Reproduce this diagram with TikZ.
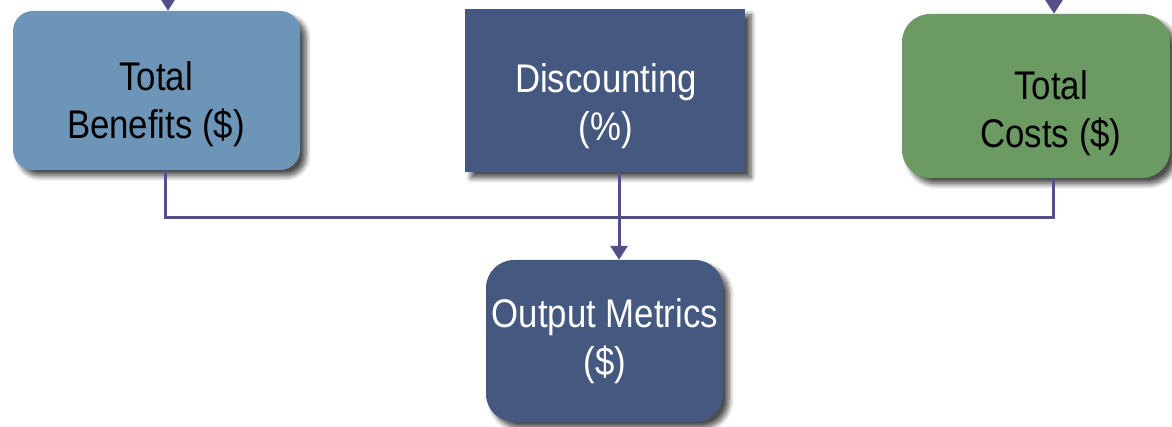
\documentclass[tikz,border=0pt]{standalone}
\usepackage{fontspec}
\newfontfamily\nar{Liberation Sans}[FakeStretch=0.87]
\usetikzlibrary{arrows.meta,shadows.blur}
\definecolor{benefit}{HTML}{6C95B8}
\definecolor{navy}{HTML}{455880}
\definecolor{costgreen}{HTML}{6B9A62}
\definecolor{linecol}{HTML}{534F8B}
\begin{document}
\begin{tikzpicture}[x=1pt,y=1pt,
  box/.style={draw=none, inner sep=0pt, align=center,
    blur shadow={shadow xshift=6pt, shadow yshift=-6pt, shadow blur steps=8, shadow opacity=70, shadow blur radius=5pt}},
  lbl/.style={font=\nar\fontsize{40}{48}\selectfont, align=center},
  conn/.style={draw=linecol, line width=3pt},
  tip/.style={-{Triangle[width=17pt,length=14pt]}}]
\useasboundingbox (0,0) rectangle (1172,-427);
\node[box, fill=benefit, rounded corners=20pt, minimum width=287pt, minimum height=159pt] (tb) at (156.5,-90.5) {};
\node[lbl, text=black] (tbt) at (156,-104) {Total\\Benefits (\$)};
\node[box, fill=navy, minimum width=280pt, minimum height=163pt] (disc) at (605,-90.5) {};
\node[lbl, text=white] (disct) at (606,-106) {Discounting\\(\%)};
\node[box, fill=costgreen, rounded corners=28pt, minimum width=268pt, minimum height=164pt] (tc) at (1036,-96) {};
\node[lbl, text=black] (tct) at (1051,-113) {Total\\Costs (\$)};
\node[box, fill=navy, rounded corners=28pt, minimum width=237pt, minimum height=162pt] (om) at (604.5,-341) {};
\node[lbl, text=white] (omt) at (605,-341) {Output Metrics\\(\$)};
\coordinate (jl) at (165,-218);
\coordinate (jr) at (1053,-218);
\coordinate (jd) at (619,-218);
\coordinate (ina) at (168,8);
\coordinate (inb) at (1054,8);
\draw[conn] (tb.south -| jl) -- (jl) -- (jr) -- (tc.south -| jr);
\draw[conn, tip] (disc.south -| jd) -- (om.north -| jd);
\draw[conn, tip] (ina) -- (tb.north -| ina);
\draw[conn, tip] (inb) -- (tc.north -| inb);
\end{tikzpicture}
\end{document}
